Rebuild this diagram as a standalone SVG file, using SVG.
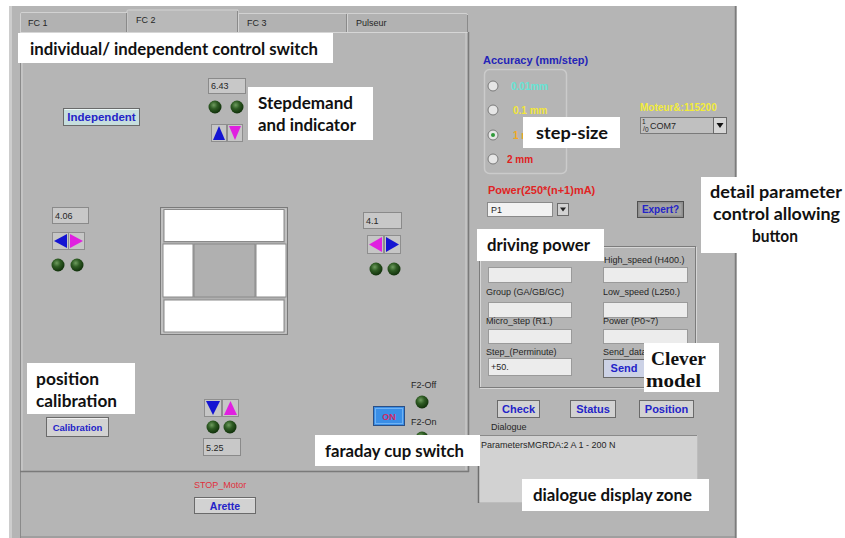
<svg xmlns="http://www.w3.org/2000/svg" width="845" height="538" viewBox="0 0 845 538">
<defs>
<radialGradient id="ledg" cx="40%" cy="35%" r="65%">
<stop offset="0" stop-color="#6e9c5e"/>
<stop offset="0.45" stop-color="#2f5c24"/>
<stop offset="1" stop-color="#10300a"/>
</radialGradient>
<style>
.ui{font-family:"Liberation Sans","DejaVu Sans",sans-serif;font-size:9px;fill:#262626}
.ann{font-family:Lato,"Open Sans",sans-serif;font-weight:bold;font-size:17px;fill:#111}
.serif{font-family:"Liberation Serif","DejaVu Serif",serif;font-weight:bold;font-size:19px;fill:#111}
.abox{fill:#ffffff}
.btn{fill:#d2d2d2;stroke:#6a6a6a;stroke-width:1}
.btxt{font-family:"Liberation Sans",sans-serif;font-weight:bold;font-size:10.5px;fill:#2424c8;text-anchor:middle}
.num{fill:#c8c8c8;stroke:#8a8a8a;stroke-width:1}
.field{fill:#ececec;stroke:#9a9a9a;stroke-width:1}
.led{fill:url(#ledg)}
.arr{fill:#c6c6c6;stroke:#8e8e8e;stroke-width:1}
.blue{fill:#1414d2}
.mag{fill:#e020e0}
.tab{fill:#b2b2b2;stroke:#d2d2d2;stroke-width:1}
.lbl{font-family:"Liberation Sans",sans-serif;font-weight:bold;font-size:10px}
</style>
</defs>
<rect x="0" y="0" width="845" height="538" fill="#ffffff"/>

<g id="window">
<rect x="9" y="6" width="728" height="532" fill="#b5b5b5"/>
<rect x="9" y="6" width="3" height="532" fill="#cdcdcd"/>
<line x1="735.5" y1="6" x2="735.5" y2="538" stroke="#7c7c7c" stroke-width="1.5"/>
<line x1="20" y1="537" x2="735" y2="537" stroke="#8a8a8a" stroke-width="1.2"/>
<line x1="20.5" y1="472" x2="20.5" y2="538" stroke="#8a8a8a" stroke-width="1"/>
</g>

<g id="tabs">
<path class="tab" d="M20.5 32 V13.5 Q20.5 12.5 22 12.5 H126.5 V32"/>
<path class="tab" d="M238.5 32 V13.5 H346.5 V32"/>
<path class="tab" d="M347.5 32 V13.5 H466 Q467.5 13.5 467.5 15 V32"/>
<path d="M127 33 V11 Q127 10 128.5 10 H238 V33" fill="#b9b9b9" stroke="#d4d4d4" stroke-width="1"/>
<line x1="126.5" y1="13" x2="126.5" y2="32" stroke="#8a8a8a"/>
<line x1="237.5" y1="11" x2="237.5" y2="32" stroke="#8a8a8a"/>
<line x1="346.5" y1="14" x2="346.5" y2="32" stroke="#8a8a8a"/>
<line x1="467.5" y1="15" x2="467.5" y2="32" stroke="#8a8a8a"/>
<text class="ui" x="28" y="26">FC 1</text>
<text class="ui" x="136" y="23">FC 2</text>
<text class="ui" x="247" y="26">FC 3</text>
<text class="ui" x="356" y="26">Pulseur</text>
</g>

<g id="tab-panel">
<rect x="20" y="32" width="448" height="440" fill="#b5b5b5"/>
<line x1="20.5" y1="32" x2="20.5" y2="472" stroke="#8a8a8a"/>
<line x1="22" y1="33" x2="22" y2="471" stroke="#d2d2d2"/>
<line x1="20" y1="32.5" x2="468" y2="32.5" stroke="#d6d6d6"/>
<line x1="20" y1="471.5" x2="469" y2="471.5" stroke="#7a7a7a" stroke-width="1.5"/>
<line x1="468.5" y1="32" x2="468.5" y2="472" stroke="#7a7a7a" stroke-width="1.5"/>
<line x1="466" y1="33" x2="466" y2="470" stroke="#cfcfcf"/>
</g>

<g id="independent">
<rect x="63.5" y="108.5" width="76" height="17" fill="#c6dede" stroke="#6a6a6a"/>
<line x1="64.5" y1="109.5" x2="138.5" y2="109.5" stroke="#eef8f8"/>
<text class="btxt" x="101.5" y="121" style="font-size:11.5px">Independent</text>
</g>

<g id="top-axis">
<rect class="num" x="208.5" y="78.5" width="37" height="15"/>
<text class="ui" x="211" y="89">6.43</text>
<circle class="led" cx="215" cy="107" r="6.5"/>
<circle class="led" cx="237" cy="107" r="6.5"/>
<rect class="arr" x="211.5" y="124.5" width="15" height="17"/>
<polygon class="blue" points="213,140 225,140 219,126"/>
<rect class="arr" x="227.5" y="124.5" width="15" height="17"/>
<polygon class="mag" points="229,126 241,126 235,140"/>
</g>

<g id="left-axis">
<rect class="num" x="52.5" y="207.5" width="36" height="16"/>
<text class="ui" x="55" y="219">4.06</text>
<rect class="arr" x="52.5" y="232.5" width="16" height="17"/>
<polygon class="blue" points="67,234 67,248 54,241"/>
<rect class="arr" x="68.5" y="232.5" width="16" height="17"/>
<polygon class="mag" points="70,234 70,248 83,241"/>
<circle class="led" cx="58" cy="265" r="6.5"/>
<circle class="led" cx="77" cy="265" r="6.5"/>
</g>

<g id="right-axis">
<rect class="num" x="363.5" y="212.5" width="38" height="16"/>
<text class="ui" x="366" y="224">4.1</text>
<rect class="arr" x="367.5" y="235.5" width="16" height="18"/>
<polygon class="mag" points="382,237 382,252 369,244.5"/>
<rect class="arr" x="384.5" y="235.5" width="16" height="18"/>
<polygon class="blue" points="386,237 386,252 399,244.5"/>
<circle class="led" cx="376" cy="269" r="6.5"/>
<circle class="led" cx="394" cy="269" r="6.5"/>
</g>

<g id="center-frame">
<rect x="160.5" y="207.5" width="127" height="127" fill="#b0b0b0" stroke="#7a7a7a"/>
<rect x="162" y="209" width="124" height="124" fill="none" stroke="#d0d0d0"/>
<rect x="164" y="209.5" width="120" height="32" fill="#ffffff" stroke="#8a8a8a"/>
<rect x="163" y="244" width="30" height="53" fill="#ffffff" stroke="#8a8a8a"/>
<rect x="194" y="244" width="61" height="53" fill="#b0b0b0" stroke="#8a8a8a"/>
<rect x="256" y="244" width="30" height="53" fill="#ffffff" stroke="#8a8a8a"/>
<rect x="164" y="300" width="120" height="32" fill="#ffffff" stroke="#8a8a8a"/>
</g>

<g id="bottom-axis">
<rect class="arr" x="204.5" y="399.5" width="17" height="17"/>
<polygon class="blue" points="206,401 220,401 213,415"/>
<rect class="arr" x="222.5" y="399.5" width="16" height="17"/>
<polygon class="mag" points="224,415 237,415 230.5,401"/>
<circle class="led" cx="213" cy="427" r="6.5"/>
<circle class="led" cx="230" cy="427" r="6.5"/>
<rect class="num" x="203.5" y="438.5" width="37" height="17"/>
<text class="ui" x="206" y="451">5.25</text>
</g>

<g id="calibration">
<rect class="btn" x="46.5" y="417.5" width="62" height="19"/>
<line x1="47.5" y1="418.5" x2="107.5" y2="418.5" stroke="#efefef"/>
<text class="btxt" x="77.5" y="431" style="font-size:9.5px">Calibration</text>
</g>

<g id="faraday">
<text class="ui" x="411" y="388">F2-Off</text>
<circle class="led" cx="422" cy="402" r="6.5"/>
<rect x="373.5" y="406.5" width="31" height="19" fill="#3a8ee6" stroke="#2a4f86"/>
<rect x="375.5" y="408.5" width="27" height="15" fill="none" stroke="#6fb2f4"/>
<text x="389" y="419.5" text-anchor="middle" style="font-family:'Liberation Sans',sans-serif;font-weight:bold;font-size:9px;fill:#d02a66">ON</text>
<text class="ui" x="411" y="425">F2-On</text>
<circle class="led" cx="422" cy="438" r="6.5"/>
</g>

<g id="stop-motor">
<text class="ui" x="194" y="488" style="fill:#e0303c">STOP_Motor</text>
<rect class="btn" x="194.5" y="497.5" width="61" height="16"/>
<line x1="195.5" y1="498.5" x2="254.5" y2="498.5" stroke="#efefef"/>
<text class="btxt" x="225" y="509.5">Arette</text>
</g>

<g id="accuracy">
<text class="lbl" x="483" y="64" fill="#2424b8" style="font-size:11px">Accuracy (mm/step)</text>
<rect x="484.5" y="69.5" width="82" height="104" rx="5" fill="none" stroke="#cbcbcb" stroke-width="1.5"/>
<circle cx="493" cy="86" r="5" fill="#e6e6e6" stroke="#7a7a7a"/>
<circle cx="493" cy="110" r="5" fill="#e6e6e6" stroke="#7a7a7a"/>
<circle cx="493" cy="135" r="5" fill="#e6e6e6" stroke="#7a7a7a"/>
<circle cx="493" cy="135" r="2" fill="#2f9a3a"/>
<circle cx="493" cy="159" r="5" fill="#e6e6e6" stroke="#7a7a7a"/>
<text class="lbl" x="511" y="90" fill="#66e4d6">0.01mm</text>
<text class="lbl" x="513" y="114" fill="#f2e63a">0.1 mm</text>
<text class="lbl" x="513" y="139" fill="#f0a820">1 mm</text>
<text class="lbl" x="507" y="163" fill="#e02020">2 mm</text>
</g>

<g id="com-port">
<text class="lbl" x="640" y="111" fill="#f2ec3a">Moteur&amp;:115200</text>
<rect x="640.5" y="117.5" width="73" height="16" fill="#c0c0c0" stroke="#7a7a7a"/>
<text x="642" y="124" style="font-family:'Liberation Sans',sans-serif;font-size:6.5px;fill:#222">1</text>
<text x="643" y="131" style="font-family:'Liberation Sans',sans-serif;font-size:7px;fill:#222">/</text>
<text x="645" y="132" style="font-family:'Liberation Sans',sans-serif;font-size:6.5px;fill:#222">0</text>
<text class="ui" x="650" y="129">COM7</text>
<rect x="713.5" y="117.5" width="13" height="16" fill="#d6d6d6" stroke="#6a6a6a"/>
<polygon points="716.5,123 723.5,123 720,128" fill="#111"/>
</g>

<g id="power">
<text class="lbl" x="488" y="194" fill="#e02424" style="font-size:11px">Power(250*(n+1)mA)</text>
<rect x="487.5" y="202.5" width="65" height="14" fill="#f2f2f2" stroke="#8a8a8a"/>
<text class="ui" x="491" y="213">P1</text>
<rect x="557.5" y="203.5" width="11" height="12" fill="#d2d2d2" stroke="#6a6a6a"/>
<polygon points="560,207.5 566,207.5 563,211.5" fill="#222"/>
</g>

<g id="expert">
<rect x="637.5" y="201.5" width="46" height="16" fill="#8e8e8e" stroke="#505050"/>
<rect x="639.5" y="203.5" width="42" height="12" fill="#a2a2a2" stroke="none"/>
<text class="btxt" x="660.5" y="213" style="font-size:10px">Expert?</text>
</g>

<g id="parameters">
<rect x="480.5" y="247.5" width="216" height="141" fill="none" stroke="#d6d6d6"/>
<rect x="479.5" y="246.5" width="216" height="141" fill="none" stroke="#7c7c7c"/>
<text class="ui" x="604" y="263">High_speed (H400.)</text>
<rect class="field" x="488.5" y="267.5" width="83" height="15"/>
<rect class="field" x="603.5" y="267.5" width="84" height="15"/>
<text class="ui" x="486" y="295">Group (GA/GB/GC)</text>
<text class="ui" x="603" y="295">Low_speed (L250.)</text>
<rect class="field" x="488.5" y="302.5" width="83" height="15"/>
<rect class="field" x="603.5" y="302.5" width="84" height="15"/>
<text class="ui" x="486" y="324">Micro_step (R1.)</text>
<text class="ui" x="603" y="324">Power (P0~7)</text>
<rect class="field" x="488.5" y="329.5" width="83" height="14"/>
<rect class="field" x="603.5" y="329.5" width="84" height="14"/>
<text class="ui" x="486" y="355">Step_(Perminute)</text>
<text class="ui" x="603" y="355">Send_data</text>
<rect class="field" x="488.5" y="358.5" width="83" height="17"/>
<text class="ui" x="491" y="370">+50.</text>
<rect x="603.5" y="359.5" width="44" height="18" fill="#ccd2e6" stroke="#6a6a6a"/>
<text class="btxt" x="624" y="372" style="font-size:11px">Send</text>
</g>

<g id="commands">
<rect class="btn" x="497.5" y="400.5" width="42" height="17"/>
<text class="btxt" x="518.5" y="413" style="font-size:11px">Check</text>
<rect class="btn" x="570.5" y="400.5" width="45" height="17"/>
<text class="btxt" x="593" y="413" style="font-size:11px">Status</text>
<rect class="btn" x="639.5" y="400.5" width="54" height="17"/>
<text class="btxt" x="666.5" y="413" style="font-size:11px">Position</text>
</g>

<g id="dialogue">
<text class="ui" x="491" y="430">Dialogue</text>
<rect x="478.5" y="435.5" width="219" height="67" fill="#d2d2d2" stroke="#bdbdbd"/>
<line x1="478.5" y1="435" x2="478.5" y2="503" stroke="#6e6e6e" stroke-width="1.5"/>
<line x1="478" y1="435.5" x2="697" y2="435.5" stroke="#8a8a8a"/>
<text class="ui" x="481" y="448">ParametersMGRDA:2 A 1 - 200 N</text>
</g>

<g id="annotations">
<rect class="abox" x="18" y="33" width="315" height="30"/>
<text class="ann" x="30" y="55" textLength="288" lengthAdjust="spacingAndGlyphs">individual/ independent control switch</text>
<rect class="abox" x="248" y="87" width="125" height="53"/>
<text class="ann" x="258" y="109" textLength="95" lengthAdjust="spacingAndGlyphs">Stepdemand</text>
<text class="ann" x="258" y="131" textLength="98" lengthAdjust="spacingAndGlyphs">and indicator</text>
<rect class="abox" x="523" y="117" width="97" height="31"/>
<text class="ann" x="536" y="139" textLength="72" lengthAdjust="spacingAndGlyphs">step-size</text>
<rect class="abox" x="701" y="177" width="144" height="76"/>
<text class="ann" x="710" y="198" textLength="132" lengthAdjust="spacingAndGlyphs">detail parameter</text>
<text class="ann" x="713" y="220" textLength="127" lengthAdjust="spacingAndGlyphs">control allowing</text>
<text class="ann" x="752" y="242" textLength="46" lengthAdjust="spacingAndGlyphs">button</text>
<rect class="abox" x="477" y="229" width="127" height="32"/>
<text class="ann" x="487" y="251" textLength="103" lengthAdjust="spacingAndGlyphs">driving power</text>
<rect class="abox" x="644" y="343" width="75" height="49"/>
<text class="serif" x="651" y="365" textLength="55" lengthAdjust="spacingAndGlyphs">Clever</text>
<text class="serif" x="646" y="387" textLength="55" lengthAdjust="spacingAndGlyphs">model</text>
<rect class="abox" x="27" y="363" width="108" height="51"/>
<text class="ann" x="36" y="385" textLength="63" lengthAdjust="spacingAndGlyphs">position</text>
<text class="ann" x="36" y="407" textLength="81" lengthAdjust="spacingAndGlyphs">calibration</text>
<rect class="abox" x="315" y="435" width="165" height="31"/>
<text class="ann" x="325" y="457" textLength="139" lengthAdjust="spacingAndGlyphs">faraday cup switch</text>
<rect class="abox" x="522" y="479" width="187" height="32"/>
<text class="ann" x="533" y="501" textLength="159" lengthAdjust="spacingAndGlyphs">dialogue display zone</text>
</g>
</svg>
